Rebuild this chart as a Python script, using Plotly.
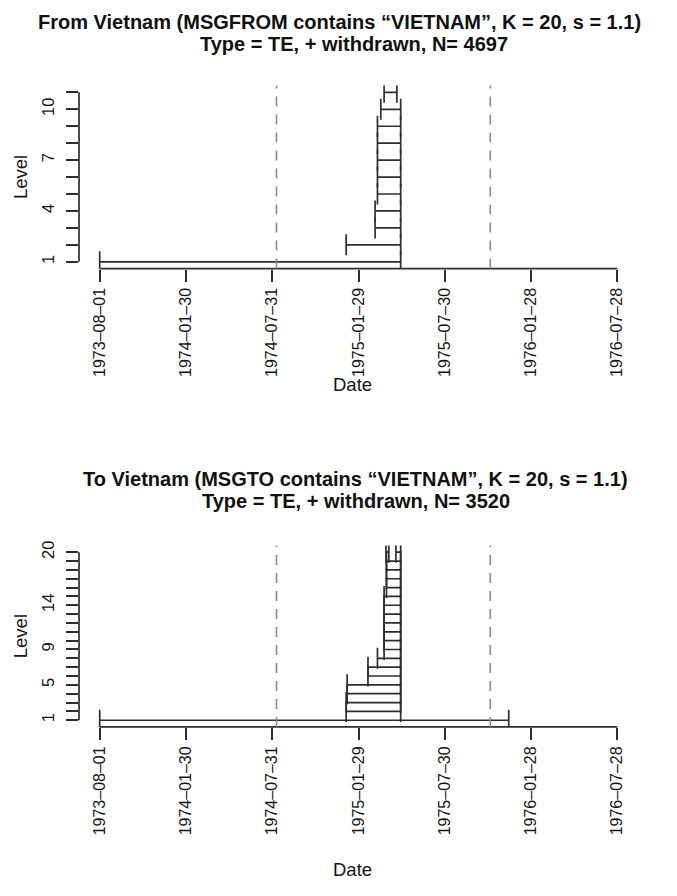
import plotly.graph_objects as go
import pandas as pd

# ---------------- data ----------------
tick_dates = ["1973-08-01", "1974-01-30", "1974-07-31", "1975-01-29",
              "1975-07-30", "1976-01-28", "1976-07-28"]
event_dates = ["1974-08-09", "1975-11-03"]

# Panel 1: From Vietnam
from_levels = [1, 2, 3, 4, 5, 6, 7, 8, 9, 10, 11]
from_starts = ["1973-08-01", "1975-01-03", "1975-03-05", "1975-03-05", "1975-03-10",
               "1975-03-10", "1975-03-10", "1975-03-10", "1975-03-10", "1975-03-17",
               "1975-03-24"]
from_ends = ["1975-04-28", "1975-04-28", "1975-04-28", "1975-04-28", "1975-04-28",
             "1975-04-28", "1975-04-28", "1975-04-28", "1975-04-28", "1975-04-28",
             "1975-04-20"]
from_label_levels = [1, 4, 7, 10]

# Panel 2: To Vietnam
to_levels = [1, 2, 3, 4, 5, 6, 7, 8, 9, 10, 11, 12, 13, 14, 15, 16, 17, 18, 19, 20, 20]
to_starts = ["1973-08-01", "1975-01-03", "1975-01-03", "1975-01-05", "1975-01-05",
             "1975-02-18", "1975-02-18", "1975-03-10", "1975-03-24", "1975-03-24",
             "1975-03-24", "1975-03-24", "1975-03-24", "1975-03-24", "1975-03-24",
             "1975-03-29", "1975-03-29", "1975-03-29", "1975-03-29", "1975-03-28",
             "1975-04-18"]
to_ends = ["1975-12-12"] + ["1975-04-28"] * 18 + ["1975-04-03", "1975-04-28"]
to_label_levels = [1, 5, 9, 14, 20]

titles = [
    ["From Vietnam (MSGFROM contains \u201cVIETNAM\u201d, K = 20, s = 1.1)",
     "Type = TE, + withdrawn, N= 4697"],
    ["To Vietnam (MSGTO contains \u201cVIETNAM\u201d, K = 20, s = 1.1)",
     "Type = TE, + withdrawn, N= 3520"],
]

# ---------------- layout constants ----------------
OFF = 8  # browser default body margin
W, H = 677 - OFF, 896 - OFF
FONT = "Liberation Sans, Arial, Helvetica, sans-serif"
LINE_COL = "#2e2e2e"
TXT_COL = "#151515"


def px_x(p):
    return (p - OFF) / W


def px_y(p):
    return 1 - (p - OFF) / H


x_dom = [px_x(79), px_x(638)]
panels_px = [(81, 265), (543.5, 726)]  # top/bottom pixel of plot regions
title_px = [(17, 39), (477, 499)]
title_cx = [(339, 354), (356, 356)]
date_px = [382, 869]

t0 = pd.Timestamp(tick_dates[0])
t1 = pd.Timestamp(tick_dates[-1])
pad = (t1 - t0) * 0.04
x_range = [(t0 - pad).isoformat(), (t1 + pad).isoformat()]

fig = go.Figure()
shapes = []
annotations = []

datasets = [
    (from_levels, from_starts, from_ends, from_label_levels),
    (to_levels, to_starts, to_ends, to_label_levels),
]

for i, (levels, starts, ends, lab_levels) in enumerate(datasets):
    xa = "x" if i == 0 else "x2"
    ya = "y" if i == 0 else "y2"
    xa_key = "xaxis" if i == 0 else "xaxis2"
    ya_key = "yaxis" if i == 0 else "yaxis2"
    lo, hi = 1, max(levels)
    ypad = (hi - lo) * 0.04
    y_range = [lo - ypad, hi + ypad]
    top_px, bot_px = panels_px[i]
    y_dom = [px_y(bot_px), px_y(top_px)]

    xs, ys = [], []
    for lv, s, e in zip(levels, starts, ends):
        xs += [s, e, None]
        ys += [lv, lv, None]
    fig.add_trace(go.Scatter(
        x=xs, y=ys, xaxis=xa, yaxis=ya, mode="lines+markers",
        line=dict(color=LINE_COL, width=1.7),
        marker=dict(symbol="line-ns", size=15,
                    line=dict(color=LINE_COL, width=1.7)),
        hoverinfo="skip", showlegend=False, cliponaxis=True,
    ))

    tickvals = list(range(lo, hi + 1))
    ticktext = [str(v) if v in lab_levels else "" for v in tickvals]

    fig.update_layout({
        xa_key: dict(domain=x_dom, range=x_range, anchor=ya, type="date",
                     tickvals=tick_dates,
                     ticktext=[d.replace("-", "\u2013") for d in tick_dates],
                     tickangle=-90, ticks="outside", ticklen=12, tickwidth=1.6,
                     tickcolor=LINE_COL, showline=False, showgrid=False,
                     zeroline=False, fixedrange=True,
                     tickfont=dict(family=FONT, size=16, color=TXT_COL)),
        ya_key: dict(domain=y_dom, range=y_range, anchor=xa,
                     tickvals=tickvals, ticktext=ticktext, tickangle=-90,
                     ticks="outside", ticklen=12, tickwidth=1.6,
                     tickcolor=LINE_COL, showline=False, showgrid=False,
                     zeroline=False, fixedrange=True, ticklabelstandoff=5,
                     tickfont=dict(family=FONT, size=16.5, color=TXT_COL)),
    })

    # axis lines spanning first..last tick (R style)
    shapes.append(dict(type="line", xref=xa, yref="paper",
                       x0=tick_dates[0], x1=tick_dates[-1],
                       y0=y_dom[0], y1=y_dom[0],
                       line=dict(color=LINE_COL, width=1.7)))
    shapes.append(dict(type="line", xref="paper", yref=ya,
                       x0=x_dom[0], x1=x_dom[0], y0=lo, y1=hi,
                       line=dict(color=LINE_COL, width=1.7)))
    # dashed event lines
    for d in event_dates:
        shapes.append(dict(type="line", xref=xa, yref="paper",
                           x0=d, x1=d, y0=y_dom[0], y1=y_dom[1],
                           line=dict(color="#8a8a8a", width=1.6, dash="10px,8px")))

    # titles
    for line, py, tx in zip(titles[i], title_px[i], title_cx[i]):
        annotations.append(dict(text="<b>" + line + "</b>", xref="paper", yref="paper",
                                x=px_x(tx), y=px_y(py), showarrow=False,
                                xanchor="center", yanchor="middle",
                                font=dict(family=FONT, size=20, color="#111111")))
    annotations.append(dict(text="Date", xref="paper", yref="paper",
                            x=px_x(352), y=px_y(date_px[i]), showarrow=False,
                            xanchor="center", yanchor="middle",
                            font=dict(family=FONT, size=18.5, color=TXT_COL)))
    annotations.append(dict(text="Level", xref="paper", yref="paper",
                            x=px_x(20), y=(y_dom[0] + y_dom[1]) / 2, textangle=-90,
                            showarrow=False, xanchor="center", yanchor="middle",
                            font=dict(family=FONT, size=18.5, color=TXT_COL)))

fig.update_layout(width=W, height=H, margin=dict(l=0, r=0, t=0, b=0),
                  plot_bgcolor="white", paper_bgcolor="white",
                  shapes=shapes, annotations=annotations, showlegend=False)

fig.write_html("out.html")
